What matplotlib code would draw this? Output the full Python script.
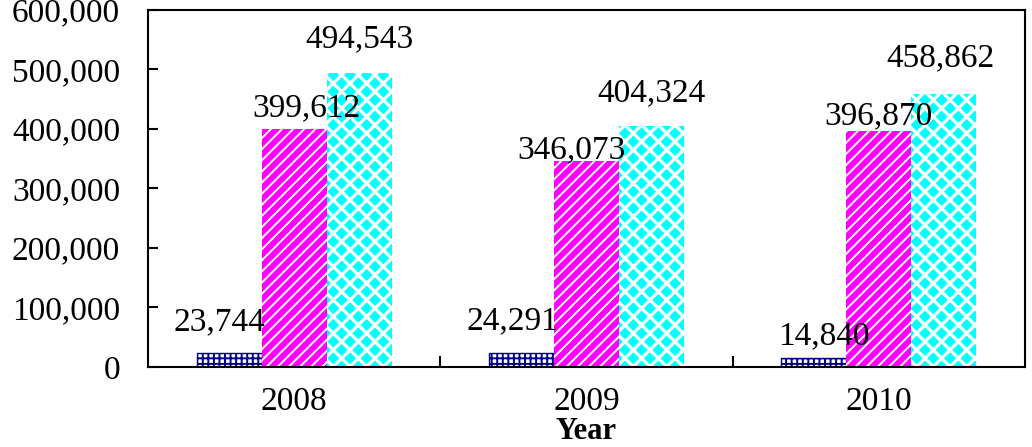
import numpy as np
import matplotlib.pyplot as plt
from matplotlib.ticker import FuncFormatter

# values
years = ['2008', '2009', '2010']
series_a = [23744, 24291, 14840]
series_b = [399612, 346073, 396870]
series_c = [494543, 404324, 458862]

plt.rcParams['font.family'] = ['Liberation Serif', 'DejaVu Serif']

fig = plt.figure(figsize=(10.32, 4.47), dpi=100)
ax = fig.add_axes([0.1434, 0.179, 0.8498, 0.799])

x = np.arange(len(years))
w = 0.222
fs = 24

plt.rcParams['hatch.linewidth'] = 1.4
bars_a = ax.bar(x - w, series_a, w, facecolor='white', edgecolor='#000080', hatch='+++', linewidth=1.0)
plt.rcParams['hatch.linewidth'] = 1.4
bars_b = ax.bar(x, series_b, w, facecolor='#ff00ff', edgecolor='white', hatch='///', linewidth=0)
plt.rcParams['hatch.linewidth'] = 2.3
bars_c = ax.bar(x + w, series_c, w, facecolor='#00ffff', edgecolor='white', hatch='xx', linewidth=0)

# label offsets in pixels (dx, dy) so labels sit like in the original
offs_a = [(-10, 31), (-9, 31), (10, 22)]
offs_b = [(12, 21), (-15, 11), (0, 15)]
offs_c = [(0, 34), (0, 33), (-3, 36)]

for bars, vals, offs in [(bars_a, series_a, offs_a), (bars_b, series_b, offs_b), (bars_c, series_c, offs_c)]:
    for b, v, o in zip(bars, vals, offs):
        ax.annotate(f'{v:,}', (b.get_x() + b.get_width() / 2, v), xytext=o,
                    textcoords='offset pixels', ha='center', va='center', fontsize=fs)

ax.set_xlim(-0.5, 2.5)
ax.set_ylim(0, 600000)
ax.set_yticks(np.arange(0, 600001, 100000))
ax.yaxis.set_major_formatter(FuncFormatter(lambda v, p: f'{int(v):,}'))
ax.set_xticks(x)
ax.set_xticklabels(years)
ax.set_xticks([0.5, 1.5], minor=True)

ax.tick_params(axis='x', which='major', length=0, pad=14, labelsize=fs)
ax.tick_params(axis='x', which='minor', direction='in', length=8, width=1.5)
ax.tick_params(axis='y', direction='in', length=7, width=1.5, labelsize=fs, pad=20)

for s in ax.spines.values():
    s.set_linewidth(1.5)

ax.set_xlabel('Year', fontsize=22, fontweight='bold', labelpad=0)

fig.savefig('out.png', dpi=100)
